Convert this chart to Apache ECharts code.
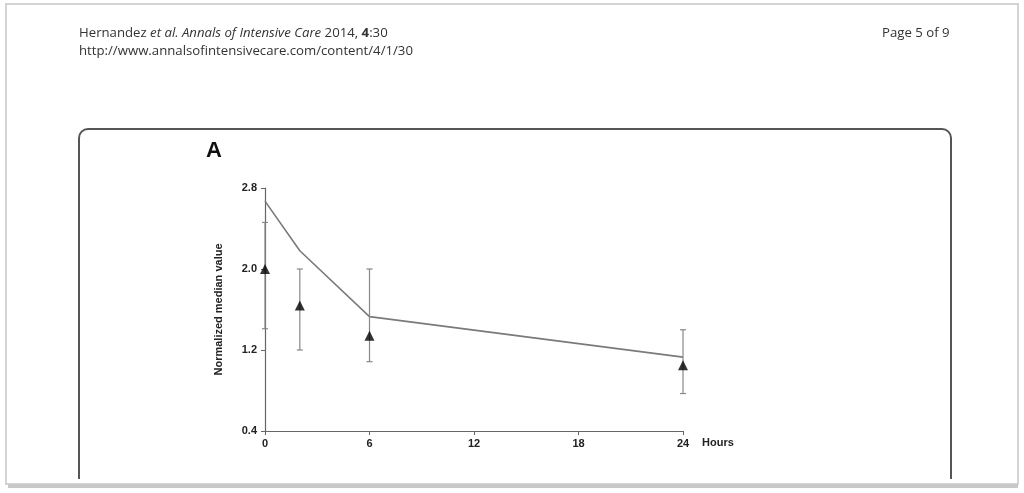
<!DOCTYPE html>
<html><head><meta charset="utf-8">
<script src="https://cdn.jsdelivr.net/npm/echarts@6/dist/echarts.min.js"></script>
<style>html,body{margin:0;padding:0;background:#fff}#c{width:1024px;height:493px}</style>
</head><body><div id="c"></div>
<script>
// Data
const lineHours = [0, 2, 6, 24];
const lineValues = [2.67, 2.18, 1.53, 1.13];
const pointHours = [0, 2, 6, 24];
const pointValues = [2.0, 1.64, 1.34, 1.05];
const errLow = [1.41, 1.2, 1.085, 0.77];
const errHigh = [2.46, 2.0, 2.0, 1.40];
const xTicks = [0, 6, 12, 18, 24];
const yTicks = [0.4, 1.2, 2.0, 2.8];

const chart = echarts.init(document.getElementById('c'), null, {renderer: 'canvas'});
const font = '"Liberation Sans", Arial, sans-serif';
const hdrFont = '"Open Sans", "Noto Sans", sans-serif';

const option = {
  animation: false,
  backgroundColor: '#fff',
  grid: {left: 265, right: 341, top: 188, bottom: 62, containLabel: false},
  xAxis: {
    type: 'value', min: 0, max: 24, interval: 6,
    axisLine: {show: true, lineStyle: {color: '#666', width: 1.2}},
    axisTick: {show: true, length: 4, lineStyle: {color: '#666'}},
    axisLabel: {color: '#222', fontFamily: font, fontWeight: 'bold', fontSize: 11, margin: 7},
    splitLine: {show: false}
  },
  yAxis: {
    type: 'value', min: 0.4, max: 2.8, interval: 0.8,
    name: 'Normalized median value', nameLocation: 'middle', nameGap: 41,
    nameTextStyle: {color: '#222', fontFamily: font, fontWeight: 'bold', fontSize: 11},
    axisLine: {show: true, lineStyle: {color: '#666', width: 1.2}},
    axisTick: {show: true, length: 4, lineStyle: {color: '#666'}},
    axisLabel: {color: '#222', fontFamily: font, fontWeight: 'bold', fontSize: 11, margin: 8,
      formatter: v => v.toFixed(1)},
    splitLine: {show: false}
  },
  series: [
    {
      type: 'line', data: lineHours.map((h, i) => [h, lineValues[i]]),
      symbol: 'none', lineStyle: {color: '#7a7a7a', width: 1.6}, z: 2
    },
    {
      type: 'custom', z: 3,
      data: pointHours.map((h, i) => [h, errLow[i], errHigh[i]]),
      renderItem: function (params, api) {
        const lo = api.coord([api.value(0), api.value(1)]);
        const hi = api.coord([api.value(0), api.value(2)]);
        const w = 3;
        const st = {stroke: '#888', lineWidth: 1.2};
        return {type: 'group', children: [
          {type: 'line', shape: {x1: lo[0], y1: lo[1], x2: hi[0], y2: hi[1]}, style: st},
          {type: 'line', shape: {x1: lo[0]-w, y1: lo[1], x2: lo[0]+w, y2: lo[1]}, style: st},
          {type: 'line', shape: {x1: hi[0]-w, y1: hi[1], x2: hi[0]+w, y2: hi[1]}, style: st}
        ]};
      }
    },
    {
      type: 'scatter', z: 4,
      data: pointHours.map((h, i) => [h, pointValues[i]]),
      symbol: 'triangle', symbolSize: [10, 10],
      itemStyle: {color: '#000'}
    }
  ],
  graphic: [
    // figure box (rounded top, bottom hidden below)
    {type: 'rect', z: 1, shape: {x: 79, y: 129, width: 872, height: 420, r: 9},
     style: {fill: 'none', stroke: '#555', lineWidth: 2}},
    {type: 'rect', z: 2, shape: {x: 0, y: 479, width: 1024, height: 14}, style: {fill: '#fff'}},
    // page border
    {type: 'rect', z: 3, shape: {x: 6, y: 4, width: 1012, height: 480}, style: {fill: 'none', stroke: '#d4d4d4', lineWidth: 2}},
    {type: 'rect', z: 3, shape: {x: 8, y: 484, width: 1010, height: 4}, style: {fill: '#c8c8c8'}},
    // header
    {type: 'text', left: 79, top: 27, z: 5, style: {rich: {
        n: {fontFamily: hdrFont, fontSize: 13.2, fill: '#333'},
        i: {fontFamily: hdrFont, fontSize: 13.2, fill: '#333', fontStyle: 'italic'},
        b: {fontFamily: hdrFont, fontSize: 13.2, fill: '#333', fontWeight: 'bold'}
      }, text: '{n|Hernandez }{i|et al. Annals of Intensive Care}{n| 2014, }{b|4}{n|:30}'}},
    {type: 'text', left: 79, top: 45, z: 5, style: {text: 'http://www.annalsofintensivecare.com/content/4/1/30',
        fontFamily: hdrFont, fontSize: 13.2, fill: '#333'}},
    {type: 'text', left: 882, top: 27, z: 5, style: {text: 'Page 5 of 9', fontFamily: hdrFont, fontSize: 13.2, fill: '#333'}},
    // panel letter
    {type: 'text', left: 206, top: 140, z: 5, style: {text: 'A', fontFamily: font, fontWeight: 'bold', fontSize: 22, fill: '#111'}},
    // x axis unit
    {type: 'text', left: 702, top: 437, z: 5, style: {text: 'Hours', fontFamily: font, fontWeight: 'bold', fontSize: 11, fill: '#222'}}
  ]
};
chart.setOption(option);
</script></body></html>
